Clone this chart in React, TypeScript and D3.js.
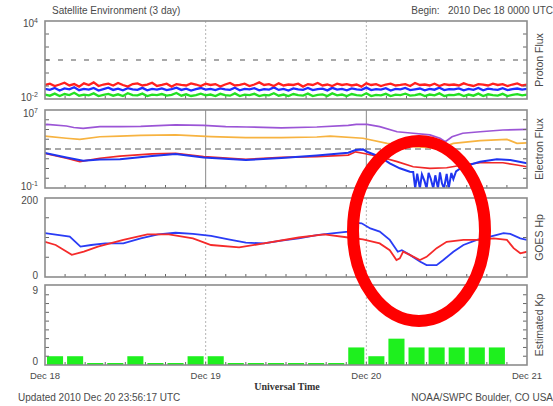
import React from 'react';
import * as d3 from 'd3';

// --- data (hours since 2010 Dec 18 00:00 UTC) ---
const dayLabels = ['Dec 18', 'Dec 19', 'Dec 20', 'Dec 21'];

// proton flux, ~every 0.73 h
const protonRed = [
  0.12, 0.15, 0.10, 0.13, 0.18, 0.11, 0.14, 0.09, 0.16, 0.12,
  0.19, 0.10, 0.13, 0.15, 0.11, 0.17, 0.12, 0.09, 0.14, 0.16,
  0.11, 0.13, 0.18, 0.10, 0.12, 0.15, 0.09, 0.14, 0.12, 0.11,
  0.16, 0.13, 0.10, 0.15, 0.12, 0.14, 0.09, 0.13, 0.17, 0.11,
  0.12, 0.15, 0.10, 0.13, 0.19, 0.12, 0.14, 0.10, 0.16, 0.11,
  0.13, 0.12, 0.15, 0.09, 0.14, 0.12, 0.17, 0.11, 0.13, 0.10,
  0.15, 0.12, 0.14, 0.11, 0.13, 0.09, 0.16, 0.12, 0.14, 0.10,
  0.13, 0.15, 0.11, 0.12, 0.14, 0.10, 0.17, 0.12, 0.13, 0.11,
  0.15, 0.10, 0.14, 0.12, 0.13, 0.11, 0.16, 0.12, 0.10, 0.14,
  0.13, 0.11, 0.15, 0.12, 0.14, 0.10, 0.13, 0.16, 0.11, 0.13,
];
const protonBlue = [
  0.060, 0.050, 0.070, 0.045, 0.065, 0.055, 0.080, 0.048, 0.060, 0.052,
  0.070, 0.045, 0.058, 0.075, 0.050, 0.062, 0.047, 0.068, 0.055, 0.050,
  0.072, 0.046, 0.060, 0.053, 0.066, 0.048, 0.058, 0.075, 0.050, 0.062,
  0.045, 0.057, 0.070, 0.052, 0.060, 0.048, 0.066, 0.055, 0.050, 0.073,
  0.047, 0.060, 0.055, 0.068, 0.046, 0.058, 0.052, 0.078, 0.050, 0.060,
  0.045, 0.065, 0.055, 0.050, 0.070, 0.048, 0.058, 0.062, 0.046, 0.072,
  0.053, 0.060, 0.047, 0.066, 0.055, 0.050, 0.075, 0.048, 0.058, 0.052,
  0.068, 0.045, 0.060, 0.055, 0.070, 0.049, 0.056, 0.064, 0.047, 0.060,
  0.052, 0.073, 0.048, 0.058, 0.055, 0.066, 0.046, 0.060, 0.050, 0.070,
  0.047, 0.062, 0.055, 0.050, 0.068, 0.048, 0.058, 0.064, 0.052, 0.060,
];
const protonGreen = [
  0.022, 0.018, 0.026, 0.017, 0.024, 0.020, 0.030, 0.018, 0.022, 0.019,
  0.027, 0.017, 0.021, 0.025, 0.018, 0.023, 0.017, 0.028, 0.020, 0.019,
  0.026, 0.017, 0.022, 0.020, 0.024, 0.018, 0.021, 0.029, 0.018, 0.023,
  0.017, 0.020, 0.026, 0.019, 0.022, 0.017, 0.025, 0.020, 0.018, 0.027,
  0.017, 0.022, 0.020, 0.025, 0.017, 0.021, 0.019, 0.028, 0.018, 0.022,
  0.017, 0.024, 0.020, 0.018, 0.026, 0.017, 0.021, 0.023, 0.017, 0.027,
  0.019, 0.022, 0.017, 0.024, 0.020, 0.018, 0.028, 0.017, 0.021, 0.019,
  0.025, 0.017, 0.022, 0.020, 0.026, 0.018, 0.020, 0.024, 0.017, 0.022,
  0.019, 0.027, 0.017, 0.021, 0.020, 0.024, 0.017, 0.022, 0.018, 0.026,
  0.017, 0.023, 0.020, 0.018, 0.025, 0.017, 0.021, 0.024, 0.019, 0.022,
];

// electron flux [hour, flux]
const electronPurple: [number, number][] = [
  [0, 3.2e5], [0.3, 3.4e5], [3.2, 2.3e5], [4.3, 1.6e5], [5.7, 1.3e5], [8.2, 1.95e5],
  [11.2, 1.95e5], [14.3, 2.1e5], [19.5, 3.0e5], [23.7, 2.6e5], [27, 2.0e5], [30.1, 1.8e5],
  [35.3, 1.5e5], [40.6, 1.8e5], [45.3, 2.6e5], [46.5, 3.4e5], [48.1, 3.4e5], [50, 1.95e5],
  [52.6, 5.9e4], [55, 4.1e4], [57.5, 2.8e4], [59, 1.26e4], [59.8, 5.6e3], [60.8, 1.8e4],
  [62.4, 4.1e4], [65, 5.9e4], [68.4, 8.9e4], [72, 1.05e5],
];
const electronOrange: [number, number][] = [
  [0, 2.1e4], [3.2, 1.26e4], [5.2, 9.8e3], [8.2, 1.8e4], [11.2, 2.1e4], [14.3, 2.5e4],
  [19.5, 2.8e4], [24.8, 1.9e4], [30, 1.5e4], [35.3, 1.5e4], [40.6, 1.7e4], [42.6, 2.1e4],
  [47.5, 1.26e4], [51.1, 3.8e3], [55, 1.7e3], [59, 1.2e3], [61, 3.8e3], [65, 7.1e3],
  [69, 9.8e3], [70.5, 3.8e3], [72, 4.2e3],
];
const electronRed: [number, number][] = [
  [0, 363], [3.2, 112], [5.2, 50], [8.2, 112], [11.2, 190], [16, 310], [19.5, 355],
  [23.7, 162], [30, 85], [35.3, 138], [40.6, 162], [45.3, 240], [46.4, 513], [47.5, 363],
  [50, 162], [52.6, 50], [55, 15], [57.5, 10.5], [60, 12], [62.4, 23], [65, 39],
  [68.4, 39], [70.5, 23], [72, 15],
];
const electronBlue: [number, number][] = [
  [0, 390], [3.2, 135], [5.7, 63], [8.2, 83], [11.2, 87], [16, 190], [19.5, 310],
  [23.7, 138], [30, 74], [35.3, 120], [40.6, 214], [45.3, 407], [46.4, 776], [47.5, 912],
  [48.1, 525], [50, 162], [51.5, 34], [53, 10.5], [54.5, 4.7], [55, 4.4], [55.3, 0.09],
  [55.6, 3], [56, 0.09], [56.3, 2.5], [56.7, 0.5], [57, 0.09], [57.3, 3.5], [57.6, 1],
  [58, 0.09], [58.3, 2], [58.7, 0.09], [59, 4], [59.3, 0.3], [59.6, 0.09], [60, 2.8],
  [60.3, 0.09], [60.7, 3.5], [61, 0.8], [61.4, 5], [62.4, 15], [65, 50], [67.5, 87],
  [69.5, 74], [72, 34],
];

// GOES Hp (nT) [hour, value]
const hpBlue: [number, number][] = [
  [0, 111], [3.7, 102], [5.3, 77], [6.9, 81], [9, 85], [11.7, 85], [14.3, 98], [16.9, 108],
  [19.5, 112], [22.1, 109], [24.8, 104], [27.4, 95], [30, 87], [32.7, 85], [35.3, 92],
  [37.9, 98], [40.6, 106], [43.2, 111], [45.3, 115], [46.6, 137], [47.3, 136], [48.6, 123],
  [50, 115], [51.5, 94], [52.7, 64], [53.3, 68], [54.5, 56], [56, 39], [57, 30], [58.5, 30],
  [59.5, 43], [61, 64], [62.5, 81], [64.5, 94], [66.5, 102], [68.5, 111], [69.5, 109],
  [71, 98], [72, 94],
];
const hpRed: [number, number][] = [
  [0, 89], [1.6, 81], [4, 56], [5.8, 64], [7.9, 77], [11.7, 94], [15.3, 108], [18.5, 108],
  [22.1, 98], [24.8, 81], [29, 75], [32.7, 85], [37.9, 100], [41.7, 108], [45.3, 100],
  [47.5, 95], [50, 85], [51.5, 68], [52.5, 43], [53, 47], [53.5, 64], [54.5, 56], [56, 43],
  [57, 51], [58.5, 73], [60, 89], [62.5, 94], [65, 94], [67, 98], [69, 94], [70, 73],
  [71, 60], [72, 64],
];

// estimated Kp, 3-hour intervals
const kpValues: (number | null)[] = [
  1, 1, 0, 0, 1, 0, 0, 1,
  1, 0, 0, 0, 0, 0, 0, 2,
  1, 3, 2, 2, 2, 2, 2, null,
];

const W = 553;
const H = 406;
const X0 = 45;
const X1 = 527;
const panels = [
  { top: 21, bottom: 99, label: 'Proton Flux' },
  { top: 110, bottom: 188, label: 'Electron Flux' },
  { top: 198, bottom: 277, label: 'GOES Hp' },
  { top: 285, bottom: 365, label: 'Estimated Kp' },
];

const FONT = '"Liberation Sans", Arial, sans-serif';
const TEXT = '#4a4a4a';
const FRAME = '#8c8c8c';

const App: React.FC = () => {
  const x = d3.scaleLinear().domain([0, 72]).range([X0, X1]);
  const yP = d3.scaleLog().domain([1e-2, 1e4]).range([panels[0].bottom, panels[0].top]);
  const yE = d3.scaleLog().domain([1e-1, 1e7]).range([panels[1].bottom, panels[1].top]);
  const yH = d3.scaleLinear().domain([0, 200]).range([panels[2].bottom, panels[2].top]);
  const yK = d3.scaleLinear().domain([0, 9]).range([panels[3].bottom, 286]);

  const protonT = d3.range(protonRed.length).map((i) => (i * 72) / (protonRed.length - 1));
  const pLine = d3.line<number>().x((_, i) => x(protonT[i])).y((d) => yP(d));
  const eLine = d3.line<[number, number]>().x((d) => x(d[0])).y((d) => yE(d[1]));
  const hLine = d3.line<[number, number]>().x((d) => x(d[0])).y((d) => yH(d[1]));

  const days = [0, 24, 48, 72];
  const minor = d3.range(3, 72, 3);
  const slot = x(3) - x(0);

  const sideTicks = (ys: number[]) =>
    ys.map((yy, i) => (
      <g key={i}>
        <line x1={X0} x2={X0 + 4} y1={yy} y2={yy} stroke="#666" strokeWidth={1} />
        <line x1={X1 - 4} x2={X1} y1={yy} y2={yy} stroke="#666" strokeWidth={1} />
      </g>
    ));

  const sup = (base: string, exp: string, xx: number, yy: number) => (
    <text x={xx} y={yy} textAnchor="end" fontSize={10} fill={TEXT} fontFamily={FONT}>
      {base}
      <tspan dy={-4} fontSize={7}>{exp}</tspan>
    </text>
  );

  return (
    <svg width={W} height={H} style={{ position: 'absolute', left: 0, top: 0, background: '#fff' }}>
      <defs>
        {panels.map((p, i) => (
          <clipPath id={`clip${i}`} key={i}>
            <rect x={X0} y={p.top} width={X1 - X0} height={p.bottom - p.top} />
          </clipPath>
        ))}
      </defs>
      <rect x={0} y={0} width={W} height={H} fill="#fff" />

      {/* titles */}
      <text x={52} y={14} fontSize={10} fill={TEXT} fontFamily={FONT}>
        Satellite Environment (3 day)
      </text>
      <text x={553} y={14} fontSize={10} fill={TEXT} fontFamily={FONT} textAnchor="end" style={{ whiteSpace: 'pre' }}>
        {'Begin:   2010 Dec 18 0000 UTC'}
      </text>

      {/* day grid, minor time ticks */}
      {panels.map((p, i) => (
        <g key={i}>
          {days.slice(1, 3).map((d) => (
            <line
              key={d}
              x1={x(d)}
              x2={x(d)}
              y1={p.top}
              y2={p.bottom}
              stroke={i === 1 ? '#8a8a8a' : '#b5b5b5'}
              strokeWidth={1}
              strokeDasharray={i === 1 ? undefined : '2,2'}
            />
          ))}
          {minor.map((m) => (
            <line key={m} x1={x(m)} x2={x(m)} y1={p.bottom} y2={p.bottom - 3} stroke="#666" strokeWidth={1} />
          ))}
        </g>
      ))}

      {/* proton panel */}
      <line x1={X0} x2={X1} y1={yP(10)} y2={yP(10)} stroke="#8c8c8c" strokeWidth={1.6} strokeDasharray="5,8" />
      <g clipPath="url(#clip0)" fill="none" strokeWidth={2.3} strokeLinejoin="miter">
        <path d={pLine(protonGreen) || undefined} stroke="#22e022" />
        <path d={pLine(protonBlue) || undefined} stroke="#2030ff" />
        <path d={pLine(protonRed) || undefined} stroke="#ff2020" />
      </g>
      {sideTicks(d3.range(-1, 4).map((e) => yP(Math.pow(10, e))))}
      {sup('10', '4', 38, 27)}
      {sup('10', '-2', 38, 101)}

      {/* electron panel */}
      <line x1={X0} x2={X1} y1={yE(1e3)} y2={yE(1e3)} stroke="#8c8c8c" strokeWidth={1.4} strokeDasharray="6,4" />
      <g clipPath="url(#clip1)" fill="none" strokeWidth={1.7}>
        <path d={eLine(electronPurple) || undefined} stroke="#9b55d6" />
        <path d={eLine(electronOrange) || undefined} stroke="#f7b340" />
        <path d={eLine(electronRed) || undefined} stroke="#f02828" />
        <path d={eLine(electronBlue) || undefined} stroke="#1f35f0" strokeWidth={2} />
      </g>
      {sideTicks(d3.range(0, 7).map((e) => yE(Math.pow(10, e))))}
      {sup('10', '7', 38, 117)}
      {sup('10', '-1', 38, 190)}

      {/* GOES Hp panel */}
      <g clipPath="url(#clip2)" fill="none" strokeWidth={1.8}>
        <path d={hLine(hpBlue) || undefined} stroke="#2a3cf5" />
        <path d={hLine(hpRed) || undefined} stroke="#f52a2a" />
      </g>
      {sideTicks([50, 100, 150].map((v) => yH(v)))}
      <text x={38} y={204} textAnchor="end" fontSize={10} fill={TEXT} fontFamily={FONT}>200</text>
      <text x={38} y={279} textAnchor="end" fontSize={10} fill={TEXT} fontFamily={FONT}>0</text>

      {/* Kp panel */}
      <g clipPath="url(#clip3)">
        {kpValues.map((v, i) =>
          v === null ? null : (
            <rect
              key={i}
              x={x(i * 3) + 2}
              width={slot - 4}
              y={v === 0 ? yK(0) - 2 : yK(v)}
              height={v === 0 ? 2 : yK(0) - yK(v)}
              fill="#1ef01e"
            />
          )
        )}
      </g>
      {sideTicks(d3.range(1, 9).map((v) => yK(v)))}
      <text x={38} y={294} textAnchor="end" fontSize={10} fill={TEXT} fontFamily={FONT}>9</text>
      <text x={38} y={365} textAnchor="end" fontSize={10} fill={TEXT} fontFamily={FONT}>0</text>

      {/* frames and right labels */}
      {panels.map((p, i) => (
        <g key={i}>
          <rect x={X0} y={p.top} width={X1 - X0} height={p.bottom - p.top} fill="none" stroke={FRAME} strokeWidth={1.6} />
          <text
            transform={`translate(${543},${(p.top + p.bottom) / 2}) rotate(-90)`}
            textAnchor="middle"
            fontSize={10.5}
            fill={TEXT}
            fontFamily={FONT}
          >
            {p.label}
          </text>
        </g>
      ))}

      {/* x axis */}
      {dayLabels.map((d, i) => (
        <text key={d} x={x(days[i])} y={379} textAnchor="middle" fontSize={9.5} fill={TEXT} fontFamily={FONT}>
          {d}
        </text>
      ))}
      <text x={287} y={390} textAnchor="middle" fontSize={10} fontWeight="bold" fill="#333" fontFamily='"Liberation Serif", serif'>
        Universal Time
      </text>
      <text x={18} y={401} fontSize={10} fill={TEXT} fontFamily={FONT}>
        Updated 2010 Dec 20 23:56:17 UTC
      </text>
      <text x={553} y={401} fontSize={10} fill={TEXT} fontFamily={FONT} textAnchor="end">
        NOAA/SWPC Boulder, CO USA
      </text>

      {/* red annotation ellipse */}
      <ellipse cx={419} cy={231} rx={66} ry={90} fill="none" stroke="#ff0000" strokeWidth={12} />
    </svg>
  );
};

export default App;
